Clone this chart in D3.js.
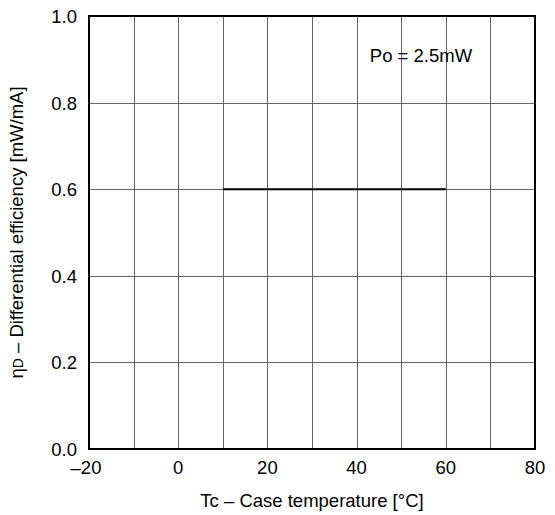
<!DOCTYPE html>
<html><head><meta charset="utf-8">
<script src="https://cdn.jsdelivr.net/npm/d3@7"></script>
<style>body{margin:0;background:#fff}svg text{font-family:"Liberation Sans",Arial,sans-serif}</style>
</head><body>
<svg id="c" width="555" height="515"></svg>
<script>
const xTicks = [-20, 0, 20, 40, 60, 80];
const xGrid = [-10, 0, 10, 20, 30, 40, 50, 60, 70];
const yTicks = [0.0, 0.2, 0.4, 0.6, 0.8, 1.0];
const tempC = [10, 60];
const efficiency = [0.6, 0.6];
const annotation = "Po = 2.5mW";

const svg = d3.select("#c");
const m = {l: 89, t: 16, r: 535, b: 449};
const x = d3.scaleLinear().domain([-20, 80]).range([m.l, m.r]);
const y = d3.scaleLinear().domain([0, 1]).range([m.b, m.t]);
const fs = 18.5;

const g = svg.append("g");
g.selectAll(".vg").data(xGrid).enter().append("line")
  .attr("x1", d => Math.round(x(d)) + 0.5).attr("x2", d => Math.round(x(d)) + 0.5)
  .attr("y1", m.t).attr("y2", m.b).attr("stroke", "#666").attr("stroke-width", 1);
g.selectAll(".hg").data(yTicks.slice(1, -1)).enter().append("line")
  .attr("y1", d => Math.round(y(d)) + 0.5).attr("y2", d => Math.round(y(d)) + 0.5)
  .attr("x1", m.l).attr("x2", m.r).attr("stroke", "#666").attr("stroke-width", 1);

g.append("rect").attr("x", m.l).attr("y", m.t).attr("width", m.r - m.l).attr("height", m.b - m.t)
  .attr("fill", "none").attr("stroke", "#000").attr("stroke-width", 2);

const line = d3.line().x(d => x(d[0])).y(d => y(d[1]));
g.append("path").datum(tempC.map((t, i) => [t, efficiency[i]]))
  .attr("d", line).attr("fill", "none").attr("stroke", "#000").attr("stroke-width", 2);

g.selectAll(".xt").data(xTicks).enter().append("text")
  .attr("x", d => x(d) - (d < 0 ? 3 : 0)).attr("y", m.b + 25).attr("text-anchor", "middle")
  .attr("font-size", fs).text(d => d < 0 ? "\u2013" + Math.abs(d) : d);
g.selectAll(".yt").data(yTicks).enter().append("text")
  .attr("x", m.l - 12).attr("y", d => y(d) + 7).attr("text-anchor", "end")
  .attr("font-size", fs).text(d => d.toFixed(1));

svg.append("text").attr("x", (m.l + m.r) / 2).attr("y", 507).attr("text-anchor", "middle")
  .attr("font-size", fs).text("Tc \u2013 Case temperature [\u00B0C]");

const yl = svg.append("text").attr("transform", `translate(23,${(m.t + m.b) / 2}) rotate(-90)`)
  .attr("text-anchor", "middle").attr("font-size", fs);
yl.append("tspan").text("\u03B7");
yl.append("tspan").attr("font-size", 14).text("D");
yl.append("tspan").text(" \u2013 Differential efficiency [mW/mA]");

svg.append("text").attr("x", 421).attr("y", 62).attr("text-anchor", "middle")
  .attr("font-size", fs).text(annotation);
</script>
</body></html>
